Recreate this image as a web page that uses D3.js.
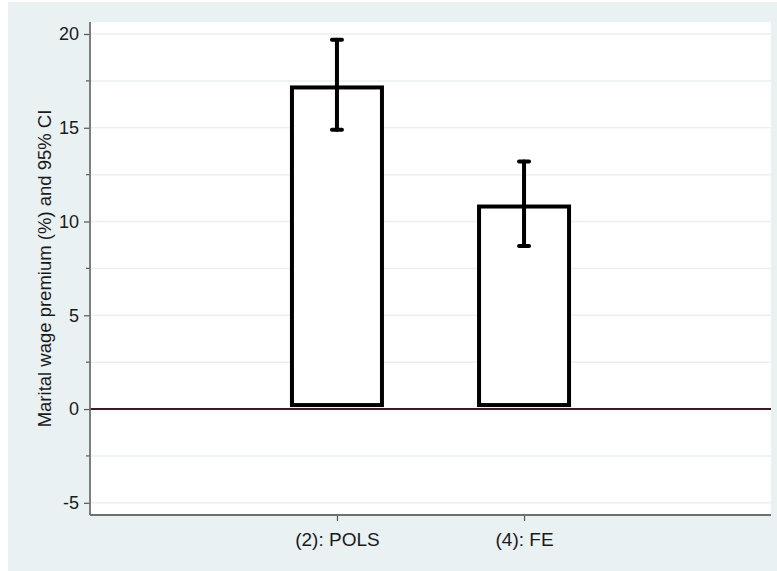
<!DOCTYPE html>
<html>
<head>
<meta charset="utf-8">
<script src="https://cdn.jsdelivr.net/npm/d3@7"></script>
<style>
  body { margin: 0; background: #fff; }
  text { font-family: "Liberation Sans", Arial, sans-serif; fill: #1a1a1a; }
</style>
</head>
<body>
<script>
// Data
const models = ["(2): POLS", "(4): FE"];
const premium = [17.15, 10.8];
const ciLow = [14.9, 8.7];
const ciHigh = [19.7, 13.2];
const majorTicks = [-5, 0, 5, 10, 15, 20];
const minorTicks = [-2.5, 2.5, 7.5, 12.5, 17.5];

const w = 777;
const h = 571;
const plot = { left: 90, right: 771, top: 22, bottom: 515 };

const svg = d3.select("body")
  .append("svg")
  .attr("width", w)
  .attr("height", h);

// outer background
svg.append("rect")
  .attr("x", 8).attr("y", 2)
  .attr("width", w - 8).attr("height", h - 2)
  .attr("fill", "#eaf1f3");

// plot region
svg.append("rect")
  .attr("x", plot.left).attr("y", plot.top)
  .attr("width", plot.right - plot.left).attr("height", plot.bottom - plot.top)
  .attr("fill", "#ffffff");

const y = d3.scaleLinear()
  .domain([-5.65, 20.64])
  .range([plot.bottom, plot.top]);

const x = d3.scalePoint()
  .domain(models)
  .range([plot.left, plot.right])
  .padding(1.32);

const barW = 90;

// gridlines on major and minor ticks
svg.append("g")
  .selectAll("line")
  .data(majorTicks.concat(minorTicks).filter(d => d !== 0))
  .enter()
  .append("line")
  .attr("x1", plot.left).attr("x2", plot.right)
  .attr("y1", d => y(d)).attr("y2", d => y(d))
  .attr("stroke", "#e9f1f3")
  .attr("stroke-width", 1.5);

// y axis
const yAxis = svg.append("g")
  .attr("transform", `translate(${plot.left},0)`)
  .call(d3.axisLeft(y).tickValues(majorTicks).tickSize(6).tickPadding(5)
    .tickFormat(d => String(d)));
yAxis.select(".domain").remove();
yAxis.selectAll(".tick line").attr("stroke", "#555").attr("stroke-width", 1.2);
yAxis.selectAll(".tick text").style("font-size", "18px").style("fill", "#1a1a1a");

svg.append("g")
  .selectAll("line")
  .data(minorTicks)
  .enter()
  .append("line")
  .attr("x1", plot.left - 4).attr("x2", plot.left)
  .attr("y1", d => y(d)).attr("y2", d => y(d))
  .attr("stroke", "#555").attr("stroke-width", 1.2);

// x axis
const xAxis = svg.append("g")
  .attr("transform", `translate(0,${plot.bottom})`)
  .call(d3.axisBottom(x).tickSize(6).tickPadding(12));
xAxis.select(".domain").remove();
xAxis.selectAll(".tick line").attr("stroke", "#555").attr("stroke-width", 1.2);
xAxis.selectAll(".tick text").style("font-size", "19px").style("fill", "#1a1a1a");

// zero line
svg.append("line")
  .attr("x1", plot.left).attr("x2", plot.right)
  .attr("y1", y(0)).attr("y2", y(0))
  .attr("stroke", "#3d1a22")
  .attr("stroke-width", 2);

// bars (outline inside the bar area)
svg.append("g")
  .selectAll("rect")
  .data(models)
  .enter()
  .append("rect")
  .attr("x", d => x(d) - barW / 2)
  .attr("y", (d, i) => y(premium[i]))
  .attr("width", barW)
  .attr("height", (d, i) => y(0) - y(premium[i]) - 4)
  .attr("fill", "#ffffff")
  .attr("stroke", "#000")
  .attr("stroke-width", 4);

// confidence intervals
const ci = svg.append("g")
  .attr("stroke", "#000")
  .attr("stroke-linecap", "round");

ci.selectAll(".ci-v")
  .data(models)
  .enter()
  .append("line")
  .attr("x1", d => x(d)).attr("x2", d => x(d))
  .attr("y1", (d, i) => y(ciLow[i]))
  .attr("y2", (d, i) => y(ciHigh[i]))
  .attr("stroke-width", 4);

ci.selectAll(".cap-hi")
  .data(models)
  .enter()
  .append("line")
  .attr("x1", d => x(d) - 5).attr("x2", d => x(d) + 5)
  .attr("y1", (d, i) => y(ciHigh[i])).attr("y2", (d, i) => y(ciHigh[i]))
  .attr("stroke-width", 4);

ci.selectAll(".cap-lo")
  .data(models)
  .enter()
  .append("line")
  .attr("x1", d => x(d) - 5).attr("x2", d => x(d) + 5)
  .attr("y1", (d, i) => y(ciLow[i])).attr("y2", (d, i) => y(ciLow[i]))
  .attr("stroke-width", 4);

// axis lines
svg.append("line")
  .attr("x1", plot.left).attr("x2", plot.left)
  .attr("y1", plot.top).attr("y2", plot.bottom)
  .attr("stroke", "#707070").attr("stroke-width", 1.8);
svg.append("line")
  .attr("x1", plot.left).attr("x2", plot.right)
  .attr("y1", plot.bottom).attr("y2", plot.bottom)
  .attr("stroke", "#707070").attr("stroke-width", 1.8);

// y title
svg.append("text")
  .attr("transform", `translate(51,${(y(-5.65) + y(20.64)) / 2}) rotate(-90)`)
  .attr("text-anchor", "middle")
  .style("font-size", "18.5px")
  .text("Marital wage premium (%) and 95% CI");
</script>
</body>
</html>
